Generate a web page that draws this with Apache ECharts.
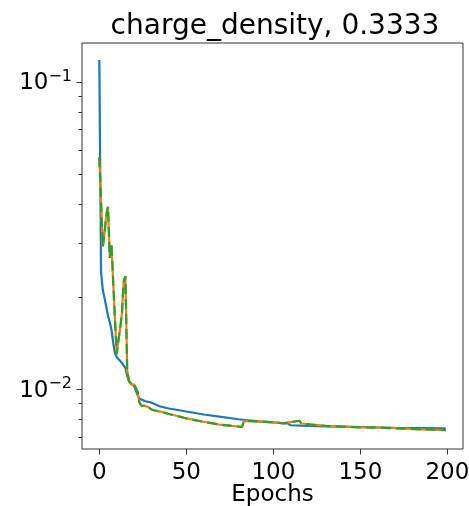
<!DOCTYPE html>
<html><head><meta charset="utf-8">
<script src="https://cdn.jsdelivr.net/npm/echarts@6/dist/echarts.min.js"></script>
<style>html,body{margin:0;padding:0;background:#fff}#c{width:469px;height:506px}</style>
</head><body><div id="c"></div>
<script>
// ---- data ----
const blueEpochs = [0,1,2,3,4,5,6,7,8,9,10,11,12,13,14,15,16,17,18,19,20,21,22,23,24,26,30,35,40,50,60,70,80,90,100,108,110,116,130,150,170,199];
const blueValues = [0.1177,0.02406,0.02102,0.01981,0.01852,0.01731,0.01655,0.01559,0.01414,0.01312,0.01274,0.01254,0.01236,0.01218,0.01195,0.01173,0.01105,0.01064,0.01048,0.01036,0.01025,0.01010,0.00958,0.00934,0.00923,0.00916,0.00905,0.00879,0.00866,0.00847,0.00828,0.00813,0.00799,0.00786,0.00780,0.00775,0.00764,0.00762,0.00758,0.00754,0.00750,0.00747];
const otherEpochs = [0,1,2,3,4,5,6,7,8,9,10,11,12,13,14,15,16,17,18,19,20,21,22,23,24,25,26,27,28,29,30,33,36,40,46,50,59,69,76,82,83,88,92,100,106,108,109,115,116,117,130,150,170,185,199];
const orangeValues = [0.05678,0.04063,0.02908,0.03222,0.03687,0.03923,0.02673,0.02945,0.02216,0.01680,0.01302,0.01446,0.01582,0.01770,0.02233,0.02335,0.01155,0.01064,0.01040,0.01033,0.01036,0.01040,0.00980,0.00909,0.00886,0.00879,0.00883,0.00889,0.00876,0.00866,0.00860,0.00850,0.00844,0.00831,0.00816,0.00804,0.00786,0.00768,0.00760,0.00754,0.00786,0.00790,0.00787,0.00781,0.00775,0.00779,0.00790,0.00790,0.00774,0.00764,0.00760,0.00752,0.00747,0.00741,0.00737];
const greenValues = orangeValues.slice();
const xTickValues = [0,50,100,150,200];
const yMajorTicks = [0.01,0.1];
const yMinorTicks = [0.007,0.008,0.009,0.02,0.03,0.04,0.05,0.06,0.07,0.08,0.09];
const titleText = 'charge_density, 0.3333';
const xName = 'Epochs';

const FONT = 'DejaVu Sans';
const TICK = '#333';
const pair = (xs, ys) => xs.map((x, i) => [x, ys[i]]);
const chart = echarts.init(document.getElementById('c'), null, {renderer: 'canvas'});
chart.setOption({
  animation: false,
  backgroundColor: '#fff',
  title: {
    text: titleText, left: 270, top: 8, textAlign: 'center',
    textStyle: {fontFamily: FONT, fontSize: 28, fontWeight: 'normal', color: '#000'}
  },
  grid: {left: 82, right: 6, top: 43, bottom: 57, show: true, borderColor: '#333', borderWidth: 1, containLabel: false, outerBoundsMode: 'none'},
  xAxis: {
    type: 'value', min: -9.95, max: 208.95,
    name: xName, nameLocation: 'middle', nameGap: 35, nameMoveOverlap: false,
    nameTextStyle: {fontFamily: FONT, fontSize: 23, color: '#000'},
    axisLine: {show: false}, splitLine: {show: false}, axisTick: {show: false},
    axisLabel: {customValues: xTickValues, margin: 13, fontFamily: FONT, fontSize: 23, color: '#000'}
  },
  yAxis: {
    type: 'log', logBase: 10, min: 0.006396, max: 0.1336,
    axisLine: {show: false}, splitLine: {show: false}, axisTick: {show: false},
    axisLabel: {
      customValues: yMajorTicks, margin: 10,
      formatter: v => '{b|10}{s|\u2212' + Math.round(-Math.log10(v)) + '}',
      rich: {
        b: {fontFamily: FONT, fontSize: 23, color: '#000', lineHeight: 26, verticalAlign: 'bottom'},
        s: {fontFamily: FONT, fontSize: 16, color: '#000', lineHeight: 26, verticalAlign: 'top'}
      }
    }
  },
  series: [
    {type: 'line', data: pair(blueEpochs, blueValues), showSymbol: false, symbol: 'none',
     lineStyle: {color: '#1f77b4', width: 2.2}, itemStyle: {color: '#1f77b4'}, z: 2},
    {type: 'line', data: pair(otherEpochs, orangeValues), showSymbol: false, symbol: 'none',
     lineStyle: {color: '#ff7f0e', width: 2.2}, itemStyle: {color: '#ff7f0e'}, z: 3},
    {type: 'line', data: pair(otherEpochs, greenValues), showSymbol: false, symbol: 'none',
     lineStyle: {color: '#2ca02c', width: 2.2, type: [10, 5]}, itemStyle: {color: '#2ca02c'}, z: 4}
  ]
});

// tick marks placed through the chart's own scales
const gridLeft = chart.convertToPixel({gridIndex: 0}, [-9.95, 0.01])[0];
const gridBottom = chart.convertToPixel({gridIndex: 0}, [0, 0.006396])[1];
const ticks = [];
const seg = (x1, y1, x2, y2) => ({type: 'line', silent: true, z: 10,
  shape: {x1, y1, x2, y2}, style: {stroke: TICK, lineWidth: 1}});
yMajorTicks.forEach(v => {
  const y = Math.round(chart.convertToPixel({gridIndex: 0}, [0, v])[1]) + 0.5;
  ticks.push(seg(gridLeft - 5.5, y, gridLeft, y));
});
yMinorTicks.forEach(v => {
  const y = Math.round(chart.convertToPixel({gridIndex: 0}, [0, v])[1]) + 0.5;
  ticks.push(seg(gridLeft - 3.5, y, gridLeft, y));
});
xTickValues.forEach(v => {
  const x = Math.round(chart.convertToPixel({gridIndex: 0}, [v, 0.01])[0]) + 0.5;
  ticks.push(seg(x, gridBottom, x, gridBottom + 5.5));
});
chart.setOption({graphic: ticks});
</script>
</body></html>
